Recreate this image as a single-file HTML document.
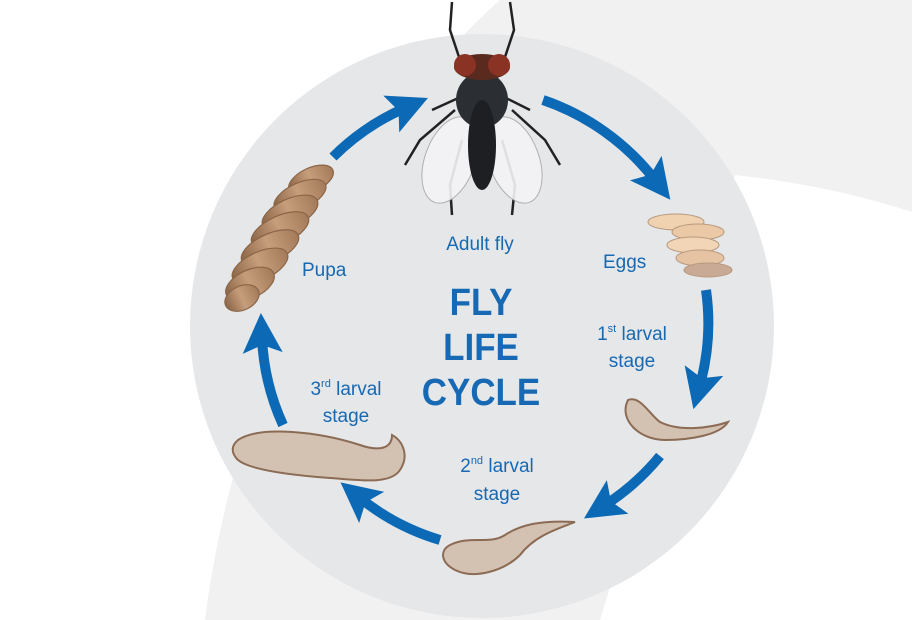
<!DOCTYPE html>
<html><head><style>
body{margin:0;width:912px;height:620px;overflow:hidden;background:#fff}
svg{display:block}
text{font-family:"Liberation Sans",sans-serif;fill:#1769b3}
</style></head><body>
<svg width="912" height="620" viewBox="0 0 912 620">
<defs>
<marker id="ah" markerWidth="4" markerHeight="4" refX="1.5" refY="2" orient="auto" markerUnits="strokeWidth">
<path d="M0,0 L4,2 L0,4 L0.8,2 Z" fill="#0b69b5"/>
</marker>
<linearGradient id="pg" x1="0" y1="0" x2="1" y2="0"><stop offset="0" stop-color="#8a6547"/><stop offset="0.5" stop-color="#c79e7c"/><stop offset="1" stop-color="#a47b5a"/></linearGradient>
</defs>
<path d="M500,0 L912,0 L912,212 C860,195 800,182 735,175 L600,620 L205,620 C230,420 330,150 500,0 Z" fill="#f1f1f1"/>
<circle cx="482" cy="326" r="292" fill="#e6e7e9"/>
<g fill="none" stroke="#0b69b5" stroke-width="10" marker-end="url(#ah)">
<path d="M543,100 A240,240 0 0 1 655,180"/>
<path d="M706,290 A235,235 0 0 1 700,385"/>
<path d="M660,456 A235,235 0 0 1 605,505"/>
<path d="M440,540 A235,235 0 0 1 360,498"/>
<path d="M283,425 A235,235 0 0 1 262,338"/>
<path d="M333,157 A235,235 0 0 1 405,108"/>
</g>
<g stroke="#222" stroke-width="2.5" fill="none">
<path d="M460,60 L450,30 L452,2"/><path d="M504,60 L514,30 L510,2"/>
<path d="M455,110 L420,140 L405,165"/><path d="M512,110 L545,140 L560,165"/>
<path d="M462,140 L450,185 L452,215"/><path d="M502,140 L515,185 L512,215"/>
<path d="M465,95 L432,110"/><path d="M500,95 L530,110"/>
</g>
<ellipse cx="450" cy="160" rx="25" ry="45" fill="#f4f4f6" stroke="#aaa" transform="rotate(20 450 160)" opacity="0.9"/>
<ellipse cx="514" cy="160" rx="25" ry="45" fill="#f4f4f6" stroke="#aaa" transform="rotate(-20 514 160)" opacity="0.9"/>
<ellipse cx="482" cy="100" rx="26" ry="28" fill="#2b2f33"/>
<ellipse cx="482" cy="145" rx="14" ry="45" fill="#1d1f22"/>
<ellipse cx="482" cy="67" rx="28" ry="13" fill="#5a2a1e"/>
<ellipse cx="465" cy="65" rx="11" ry="11" fill="#8a3224"/>
<ellipse cx="499" cy="65" rx="11" ry="11" fill="#8a3224"/>
<g stroke="#b89a80" stroke-width="1">
<ellipse cx="676" cy="222" rx="28" ry="8" fill="#f0d2b0"/>
<ellipse cx="698" cy="232" rx="26" ry="8" fill="#ecc9a6"/>
<ellipse cx="693" cy="245" rx="26" ry="8" fill="#f2d5b6"/>
<ellipse cx="700" cy="258" rx="24" ry="8" fill="#e6c3a2"/>
<ellipse cx="708" cy="270" rx="24" ry="7" fill="#c9ab95"/>
</g>
<path d="M628,400 C640,395 650,415 660,422 C680,432 710,428 728,422 C720,435 690,440 665,440 C640,440 618,420 628,400 Z" fill="#d3c1b2" stroke="#8c6b55" stroke-width="2"/>
<path d="M450,545 C470,535 490,545 505,535 C520,525 540,520 575,522 C560,528 535,535 520,555 C505,570 475,580 455,570 C440,562 440,550 450,545 Z" fill="#d3c1b2" stroke="#8c6b55" stroke-width="2"/>
<path d="M238,440 C260,425 320,432 360,445 C380,452 392,448 392,435 C402,440 410,455 400,470 C390,485 360,480 330,478 C290,475 250,470 238,460 C230,452 232,445 238,440 Z" fill="#d3c1b2" stroke="#8c6b55" stroke-width="2"/>
<g stroke="#8a6547" stroke-width="1.2" fill="url(#pg)">
<ellipse cx="311" cy="180" rx="24" ry="12" transform="rotate(-25 311 180)"/>
<ellipse cx="300" cy="196" rx="28" ry="13" transform="rotate(-25 300 196)"/>
<ellipse cx="290" cy="213" rx="30" ry="14" transform="rotate(-25 290 213)"/>
<ellipse cx="280" cy="230" rx="31" ry="14" transform="rotate(-25 280 230)"/>
<ellipse cx="270" cy="248" rx="31" ry="14" transform="rotate(-25 270 248)"/>
<ellipse cx="260" cy="266" rx="30" ry="14" transform="rotate(-25 260 266)"/>
<ellipse cx="250" cy="284" rx="26" ry="14" transform="rotate(-25 250 284)"/>
<ellipse cx="242" cy="298" rx="18" ry="12" transform="rotate(-25 242 298)"/>
</g>
<text x="480" y="250" font-size="19" text-anchor="middle">Adult fly</text>
<text x="603" y="268" font-size="19">Eggs</text>
<text x="302" y="276" font-size="19">Pupa</text>
<text x="632" y="340" font-size="19" text-anchor="middle">1<tspan font-size="11" dy="-8">st</tspan><tspan dy="8"> larval</tspan></text>
<text x="632" y="367" font-size="19" text-anchor="middle">stage</text>
<text x="346" y="395" font-size="19" text-anchor="middle">3<tspan font-size="11" dy="-8">rd</tspan><tspan dy="8"> larval</tspan></text>
<text x="346" y="422" font-size="19" text-anchor="middle">stage</text>
<text x="497" y="472" font-size="19" text-anchor="middle">2<tspan font-size="11" dy="-8">nd</tspan><tspan dy="8"> larval</tspan></text>
<text x="497" y="500" font-size="19" text-anchor="middle">stage</text>
<g font-weight="bold" font-size="38" text-anchor="middle" transform="translate(481 0) scale(0.92 1)">
<text x="0" y="315">FLY</text>
<text x="0" y="360">LIFE</text>
<text x="0" y="405">CYCLE</text>
</g>
</svg>
</body></html>
